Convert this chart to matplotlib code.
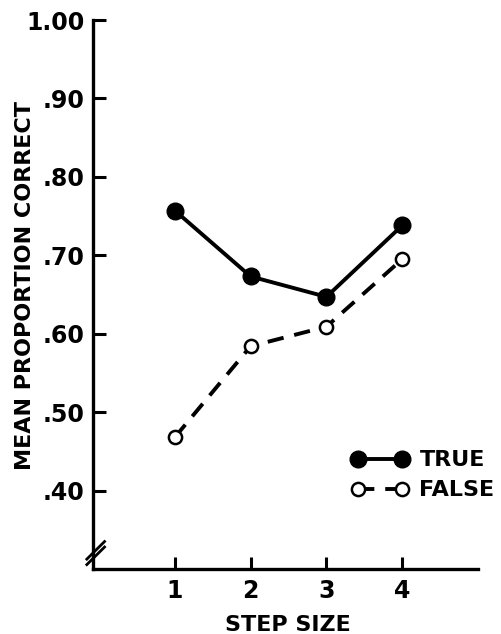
import matplotlib
matplotlib.use("Agg")
import matplotlib.pyplot as plt
from matplotlib.lines import Line2D

step_sizes = [1, 2, 3, 4]
true_vals = [0.757, 0.673, 0.647, 0.738]
false_vals = [0.468, 0.584, 0.609, 0.695]
y_ticks = [0.40, 0.50, 0.60, 0.70, 0.80, 0.90, 1.00]
y_tick_labels = [".40", ".50", ".60", ".70", ".80", ".90", "1.00"]
x_tick_labels = ["1", "2", "3", "4"]

plt.rcParams['font.family'] = ['DejaVu Sans']
fig = plt.figure(figsize=(5.01, 6.34), dpi=100)
ax = fig.add_axes([93/501, 1-569/634, (478-93)/501, (569-20)/634])

ax.plot(step_sizes, true_vals, color='black', lw=2.8, marker='o', ms=12,
        mfc='black', mec='black', label='TRUE', solid_capstyle='butt')
ax.plot(step_sizes, false_vals, color='black', lw=2.8, ls=(0, (4.2, 2.8)), marker='o', ms=9.5,
        mfc='white', mec='black', mew=1.8, label='FALSE', dash_capstyle='butt')

ax.set_xlim(-0.08, 5.0)
ax.set_ylim(0.30, 1.00)
ax.set_yticks(y_ticks)
ax.set_yticklabels(y_tick_labels)
ax.set_xticks(step_sizes)
ax.set_xticklabels(x_tick_labels)

for s in ['top', 'right']:
    ax.spines[s].set_visible(False)
for s in ['left', 'bottom']:
    ax.spines[s].set_linewidth(2.4)
    ax.spines[s].set_capstyle('projecting')

ax.tick_params(axis='both', direction='in', length=9, width=2.2, labelsize=17)
ax.tick_params(axis='y', pad=6)
ax.tick_params(axis='x', pad=7)
for lab in ax.get_xticklabels() + ax.get_yticklabels():
    lab.set_fontweight('bold')

ax.set_ylabel('MEAN PROPORTION CORRECT', fontsize=16, fontweight='bold')
ax.yaxis.set_label_coords(-0.15, 0.517)
ax.set_xlabel('STEP SIZE', fontsize=16, fontweight='bold')
ax.xaxis.set_label_coords(0.506, -0.084)

# axis break marks
for off in (0.0, 0.010):
    ax.add_line(Line2D([-0.016, 0.030], [0.008 + off, 0.040 + off], transform=ax.transAxes,
                       color='black', lw=2.0, clip_on=False))

leg = ax.legend(loc='upper left', bbox_to_anchor=(0.672, 0.216), frameon=False, numpoints=2,
                handlelength=2.55, handletextpad=0.5, borderpad=0, borderaxespad=0,
                labelspacing=0.45, prop={'size': 16, 'weight': 'bold'})

fig.savefig('out.png', dpi=100)
